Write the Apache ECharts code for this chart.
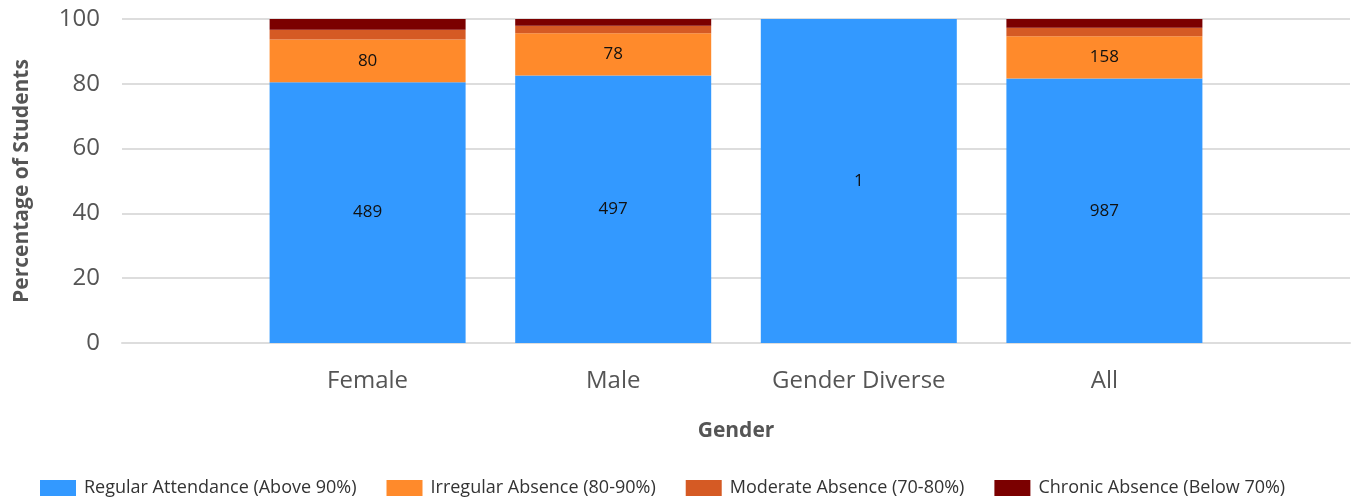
<!DOCTYPE html>
<html style="height: 100%; width: 100%;">
<head>
    <meta charset="utf-8">
    <title>Attendance by Gender</title>
    <script src="https://cdn.jsdelivr.net/npm/echarts@6/dist/echarts.min.js"></script>
    <style>
        body, html {
            margin: 0;
            padding: 0;
            width: 100%;
            height: 100%;
            overflow: hidden;
        }
        #main {
            width: 1359px;
            height: 504px;
        }
    </style>
</head>
<body>
<div id="main"></div>
<script type="text/javascript">
    // data
    var genders = ['Female', 'Male', 'Gender Diverse', 'All'];
    var seriesNames = ['Regular Attendance (Above 90%)', 'Irregular Absence (80-90%)', 'Moderate Absence (70-80%)', 'Chronic Absence (Below 70%)'];
    var regularPct = [80.5, 82.6, 100, 81.6];
    var irregularPct = [13.2, 13.0, 0, 13.1];
    var moderatePct = [3.0, 2.3, 0, 2.6];
    var chronicPct = [3.3, 2.1, 0, 2.7];
    var regularCount = [489, 497, 1, 987];
    var irregularCount = [80, 78, 0, 158];
    var yTicks = [0, 20, 40, 60, 80, 100];

    var colors = ['#3399FF', '#FF8A2B', '#D55A24', '#7B0000'];

    // empty slot on each side of the axis, like the original
    function pad(arr) {
        return ['-'].concat(arr, ['-']);
    }
    var cats = [''].concat(genders, ['']);

    function countLabel(counts) {
        return {
            show: true,
            position: 'inside',
            color: '#111',
            fontSize: 17,
            fontFamily: 'Open Sans',
            formatter: function (p) {
                var c = counts[p.dataIndex - 1];
                return c ? String(c) : '';
            }
        };
    }

    var pctSets = [regularPct, irregularPct, moderatePct, chronicPct];
    var labels = [countLabel(regularCount), countLabel(irregularCount), {show: false}, {show: false}];

    var series = pctSets.map(function (vals, i) {
        return {
            name: seriesNames[i],
            type: 'bar',
            stack: 'total',
            barWidth: 196,
            data: pad(vals),
            itemStyle: {color: colors[i]},
            label: labels[i]
        };
    });

    var chart = echarts.init(document.getElementById('main'));
    chart.setOption({
        animation: false,
        textStyle: {fontFamily: 'Open Sans'},
        grid: {left: 122, right: 9, top: 19, bottom: 161, outerBoundsMode: 'none'},
        legend: {
            left: 35,
            top: 474,
            itemWidth: 36,
            itemHeight: 16,
            itemGap: 30,
            icon: 'rect',
            textStyle: {fontSize: 18, color: '#333', fontFamily: 'Open Sans', padding: [0, 0, 0, 3]},
            data: seriesNames
        },
        xAxis: {
            type: 'category',
            data: cats,
            boundaryGap: false,
            name: 'Gender',
            nameLocation: 'middle',
            nameGap: 78,
            nameTextStyle: {fontSize: 21, fontWeight: 'bold', color: '#555'},
            axisLine: {lineStyle: {color: '#ddd', width: 2}},
            axisTick: {show: false},
            axisLabel: {fontSize: 24, color: '#555', margin: 26, interval: 0}
        },
        yAxis: {
            type: 'value',
            min: yTicks[0],
            max: yTicks[yTicks.length - 1],
            interval: 20,
            name: 'Percentage of Students',
            nameLocation: 'middle',
            nameGap: 89,
            nameTextStyle: {fontSize: 21, fontWeight: 'bold', color: '#555'},
            axisLabel: {fontSize: 24, color: '#555', margin: 22},
            splitLine: {lineStyle: {color: '#ddd', width: 2}}
        },
        series: series
    });
</script>
</body>
</html>
